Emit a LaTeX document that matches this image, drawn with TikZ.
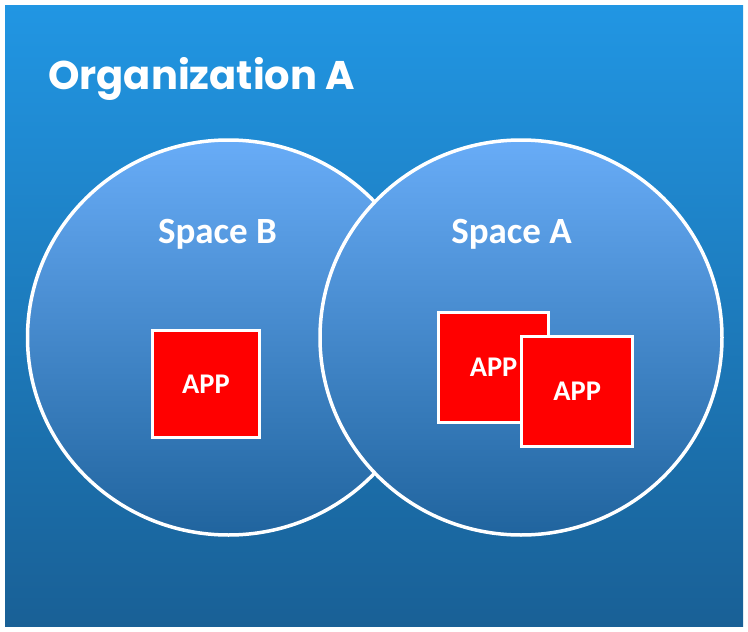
\documentclass[tikz,border=0pt]{standalone}
\usepackage{fontspec}
\setmainfont{Carlito}
\newfontfamily\titlefont{Poppins}
\usetikzlibrary{shapes.geometric}
\definecolor{bgtop}{RGB}{33,150,227}
\definecolor{bgbot}{RGB}{25,96,150}
\definecolor{ctop}{RGB}{104,172,247}
\definecolor{cbot}{RGB}{32,100,158}
\definecolor{appred}{RGB}{255,0,0}
\tikzset{
  space/.style={ellipse, draw=white, line width=3.5pt, minimum width=402pt, minimum height=395pt, inner sep=0pt, top color=ctop, bottom color=cbot},
  appbox/.style={rectangle, draw=white, line width=3pt, fill=appred, minimum width=107pt, minimum height=107pt, inner sep=0pt, text=white, font=\bfseries\fontsize{28.5}{30}\selectfont},
  spacelabel/.style={text=white, font=\bfseries\fontsize{37}{39}\selectfont, inner sep=0pt, anchor=base},
}
\begin{document}
\begin{tikzpicture}[x=1pt,y=-1pt]
\useasboundingbox (0,0) rectangle (748,632);
\shade[top color=bgtop, bottom color=bgbot] (5,5) rectangle (743,626);
\node[space] (spB) at (228.5,337.5) {};
\node[space] (spA) at (521,337.5) {};
\node[text=white, font=\titlefont\bfseries\fontsize{40}{42}\selectfont, anchor=base west, inner sep=0pt] (org) at (48,89.5) {Organization A};
\node[spacelabel] (lblB) at (217.5,243) {Space B};
\node[spacelabel] (lblA) at (511.5,243) {Space A};
\node[appbox] (appB) at (206,384.3) {APP};
\node[appbox, minimum width=110.5pt, minimum height=110pt] (appA1) at (493.6,367.7) {APP};
\node[appbox, minimum width=111pt, minimum height=110pt] (appA2) at (577.2,391.7) {APP};
\end{tikzpicture}
\end{document}
